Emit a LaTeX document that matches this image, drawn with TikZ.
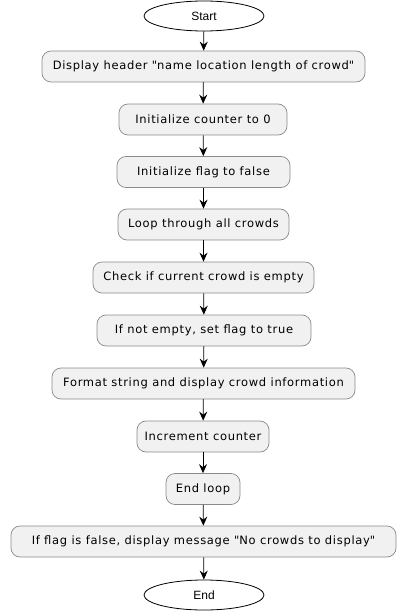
\documentclass[tikz,border=0pt]{standalone}
\usepackage{fontspec}
\setmainfont[LetterSpace=6]{DejaVu Sans}
\newfontfamily\termfont{Liberation Sans}
\usetikzlibrary{shapes.geometric,arrows.meta}
\definecolor{boxfill}{HTML}{F1F1F1}
\definecolor{boxline}{HTML}{8A8A8A}
\tikzset{
  actbox/.style={draw=boxline, fill=boxfill, rounded corners=9pt, minimum height=31pt, inner xsep=0pt, font=\fontsize{11.5}{14}\selectfont, line width=0.7pt},
  term/.style={ellipse, draw=black, fill=white, minimum width=120pt, minimum height=30pt, inner sep=0pt, font=\termfont\fontsize{12}{14}\selectfont, line width=0.8pt},
  flow/.style={-{Stealth[length=9pt,width=8pt,inset=3pt]}, line width=0.8pt}
}
\newcommand{\qq}{\textquotedbl}
\begin{document}
\begin{tikzpicture}[x=1pt,y=-1pt]
\useasboundingbox (0,0) rectangle (408,612);
\node[term] (start) at (204,16) {Start};
\node[actbox, minimum width=323pt] (b1) at (203.5,66.5) {Display header \qq name location length of crowd\qq};
\node[actbox, minimum width=168pt] (b2) at (203,119.5) {Initialize counter to 0};
\node[actbox, minimum width=173pt] (b3) at (203.5,172) {Initialize flag to false};
\node[actbox, minimum width=171pt] (b4) at (203.5,224.5) {Loop through all crowds};
\node[actbox, minimum width=221pt] (b5) at (203.5,277.5) {Check if current crowd is empty};
\node[actbox, minimum width=214pt] (b6) at (204,330.5) {If not empty, set flag to true};
\node[actbox, minimum width=303pt] (b7) at (203.5,383.5) {Format string and display crowd information};
\node[actbox, minimum width=132pt] (b8) at (203,436.5) {Increment counter};
\node[actbox, minimum width=74pt] (b9) at (203,489) {End loop};
\node[actbox, minimum width=385pt] (b10) at (203.5,541.5) {If flag is false, display message \qq No crowds to display\qq};
\node[term] (end) at (204,595) {End};
\draw[flow] (start) -- (b1);
\draw[flow] (b1) -- (b2);
\draw[flow] (b2) -- (b3);
\draw[flow] (b3) -- (b4);
\draw[flow] (b4) -- (b5);
\draw[flow] (b5) -- (b6);
\draw[flow] (b6) -- (b7);
\draw[flow] (b7) -- (b8);
\draw[flow] (b8) -- (b9);
\draw[flow] (b9) -- (b10);
\draw[flow] (b10) -- (end);
\end{tikzpicture}
\end{document}
